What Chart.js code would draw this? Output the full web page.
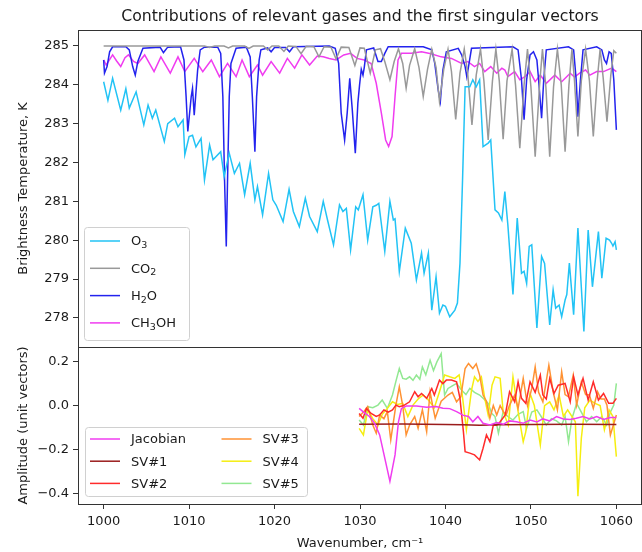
<!DOCTYPE html>
<html><head><meta charset="utf-8">
<script src="https://cdn.jsdelivr.net/npm/chart.js@4"></script>
<style>
html,body{margin:0;padding:0;background:#fff;}
#wrap{position:relative;width:642px;height:552px;}
canvas{position:absolute;left:0;top:0;}
</style></head>
<body><div id="wrap"><canvas id="top" width="642" height="552"></canvas><canvas id="bot" width="642" height="552"></canvas></div>
<script>
// ---------- tick labels ----------
const xTicks = [1000, 1010, 1020, 1030, 1040, 1050, 1060];
const topYTicks = [278, 279, 280, 281, 282, 283, 284, 285];
const botYTicks = [-0.4, -0.2, 0.0, 0.2];

// ---------- top panel: gas contributions (K) ----------
const o3X = [1000.0,1000.5,1001.05,1002.0,1002.6,1003.0,1003.8,1004.7,1005.2,1005.7,1006.1,1007.1,1007.5,1008.3,1008.7,1009.3,1009.5,1010.0,1010.4,1010.8,1011.4,1011.8,1012.4,1012.8,1013.7,1014.1,1014.7,1015.3,1015.9,1016.5,1017.15,1017.7,1018.0,1018.6,1019.3,1019.8,1020.2,1021.0,1021.7,1022.2,1022.9,1023.6,1024.1,1025.0,1025.7,1026.2,1026.9,1027.6,1028.0,1028.4,1028.9,1029.5,1029.8,1030.35,1030.9,1031.5,1031.9,1032.2,1032.9,1033.5,1033.9,1034.1,1034.6,1035.3,1036.0,1036.6,1037.2,1037.5,1038.0,1038.4,1038.9,1039.3,1039.7,1040.0,1040.5,1041.1,1041.4,1041.7,1042.0,1042.3,1042.85,1043.2,1043.6,1044.0,1044.4,1045.0,1045.3,1045.8,1046.2,1046.6,1046.95,1047.3,1047.9,1048.4,1048.9,1049.2,1049.5,1049.8,1050.1,1050.7,1051.25,1051.6,1052.2,1052.6,1052.9,1053.3,1053.6,1054.0,1054.2,1054.5,1055.0,1055.5,1056.2,1056.7,1057.2,1057.9,1058.3,1058.8,1059.2,1059.45,1059.6,1059.85,1060.0];
const o3Y = [284.08,283.6,284.17,283.35,283.9,283.4,283.82,282.97,283.48,283.14,283.35,282.54,283.0,283.14,282.92,283.1,282.2,282.67,282.7,282.4,282.62,281.55,282.45,282.07,282.28,281.64,282.24,281.72,281.98,281.17,281.98,281.04,281.38,280.65,281.72,281.04,280.9,280.48,281.31,280.74,280.35,281.08,280.61,280.22,281.0,280.52,279.88,280.91,280.74,280.82,279.75,280.86,280.78,281.17,280.0,280.86,280.9,280.95,279.71,281.0,280.52,280.55,279.19,280.31,279.92,278.98,279.67,279.15,279.67,278.2,279.06,278.12,278.33,278.3,278.03,278.2,278.38,279.41,281.55,283.95,283.95,284.13,283.95,284.13,282.41,282.5,282.58,280.78,280.7,280.52,281.25,280.4,278.6,280.57,279.15,279.2,278.89,279.84,279.88,277.74,279.58,279.4,277.82,278.72,278.25,278.33,278.03,278.46,278.6,279.41,278.08,280.31,277.65,280.26,278.8,280.22,279.02,280.05,280.0,279.92,279.85,279.96,279.75];

const co2X = [1000.0,1011.8,1012.4,1013.0,1014.1,1014.6,1015.1,1016.5,1017.0,1017.5,1018.7,1019.2,1019.7,1020.5,1021.1,1021.6,1022.5,1023.1,1023.7,1024.6,1025.2,1025.8,1026.6,1027.2,1027.8,1028.7,1029.4,1030.0,1030.5,1031.2,1031.8,1032.4,1032.9,1033.5,1034.0,1034.5,1035.0,1035.4,1035.8,1036.4,1036.9,1037.4,1037.9,1038.4,1038.9,1039.3,1039.8,1040.3,1040.7,1041.2,1041.7,1042.2,1042.6,1043.1,1043.6,1044.1,1044.5,1045.0,1045.5,1045.9,1046.3,1046.75,1047.2,1047.8,1048.2,1048.7,1049.2,1049.6,1050.0,1050.5,1051.0,1051.35,1051.75,1052.2,1052.65,1053.1,1053.55,1054.0,1054.45,1054.8,1055.1,1055.5,1055.9,1056.4,1056.85,1057.3,1057.75,1058.1,1058.45,1058.9,1059.35,1059.7,1060.0];
const co2Y = [285.0,285.0,284.96,285.0,285.0,284.95,285.0,285.0,284.94,285.0,285.0,284.9,285.0,285.0,284.86,285.0,284.99,284.8,284.99,284.98,284.72,284.98,284.97,284.67,284.97,284.96,284.5,284.95,284.94,284.3,284.9,284.93,284.6,284.13,284.6,284.93,284.55,283.91,284.5,284.93,284.45,283.7,284.4,284.92,284.45,283.57,284.4,284.92,284.35,283.11,284.3,284.92,284.3,282.97,284.25,284.92,284.1,282.58,284.1,284.92,284.1,282.6,284.1,284.92,284.0,282.37,284.0,284.92,283.95,282.15,283.95,284.92,283.95,282.15,283.95,284.92,284.0,282.28,284.0,284.92,284.1,282.67,284.1,284.92,284.1,282.67,284.1,284.92,284.2,283.05,284.25,284.88,284.81];

const h2oX = [1000.0,1000.1,1000.4,1000.7,1001.05,1002.6,1003.0,1003.4,1003.7,1004.0,1004.6,1006.6,1007.0,1007.5,1009.0,1009.4,1009.65,1009.85,1010.25,1010.4,1010.6,1011.0,1011.3,1011.8,1013.35,1013.7,1013.95,1014.15,1014.35,1014.5,1014.7,1014.9,1015.5,1016.7,1017.15,1017.4,1017.7,1017.9,1018.2,1018.4,1019.2,1019.6,1020.0,1021.3,1021.75,1022.2,1026.4,1027.1,1027.5,1027.8,1028.2,1028.5,1028.8,1029.1,1029.45,1029.75,1029.95,1030.15,1030.35,1030.5,1030.75,1031.6,1032.1,1032.5,1032.9,1033.3,1037.4,1038.4,1038.75,1039.15,1039.4,1039.7,1040.1,1041.5,1041.9,1042.3,1042.5,1042.7,1043.05,1047.9,1048.5,1048.9,1049.2,1049.5,1049.9,1050.3,1050.7,1050.9,1051.25,1051.5,1051.8,1054.4,1055.0,1055.3,1055.5,1055.8,1056.1,1057.7,1058.3,1058.6,1058.85,1059.15,1059.4,1059.7,1060.0];
const h2oY = [284.64,284.3,284.47,284.85,284.98,284.98,284.9,284.47,284.25,284.6,284.94,284.97,284.83,284.97,284.98,284.64,283.7,282.8,283.7,283.91,283.22,284.38,284.9,284.97,284.97,284.81,283.7,281.55,279.84,281.55,283.7,284.55,284.94,284.97,284.72,283.7,282.28,283.7,284.64,284.9,284.95,284.85,284.96,284.96,284.85,284.98,285.0,284.94,284.55,283.27,282.58,283.27,284.17,283.35,282.24,283.53,284.0,284.4,284.25,284.45,284.9,284.95,284.6,284.6,284.81,284.98,284.98,284.9,284.55,283.87,283.57,284.38,284.85,284.94,284.77,284.47,284.21,284.47,284.94,284.98,284.9,284.13,283.1,284.13,284.77,284.85,284.64,284.13,283.14,284.13,284.9,284.98,284.9,284.13,283.18,284.13,284.9,284.98,284.9,284.64,284.55,284.85,284.81,284.13,282.84];

const ch3ohX = [1000.0,1000.3,1001.05,1001.5,1002.0,1002.5,1002.9,1003.5,1004.0,1004.8,1005.9,1006.7,1007.8,1008.7,1009.5,1010.6,1011.6,1012.6,1013.55,1014.5,1015.5,1016.2,1017.05,1018.0,1018.6,1019.6,1020.6,1021.5,1022.35,1023.2,1024.1,1025.0,1025.7,1026.4,1027.2,1028.1,1028.9,1029.65,1030.5,1031.3,1031.9,1032.5,1033.0,1033.35,1033.75,1034.1,1034.45,1034.85,1036.0,1037.2,1038.3,1039.5,1040.7,1041.9,1042.6,1043.4,1044.0,1044.6,1045.3,1046.0,1046.6,1046.95,1047.3,1048.1,1048.7,1049.3,1049.9,1050.5,1051.1,1051.8,1052.8,1053.6,1054.6,1055.1,1055.7,1056.4,1056.9,1057.7,1058.5,1059.45,1060.0];
const ch3ohY = [284.64,284.51,284.77,284.62,284.47,284.7,284.77,284.6,284.55,284.77,284.34,284.72,284.3,284.72,284.34,284.68,284.34,284.64,284.21,284.55,284.21,284.64,284.21,284.51,284.25,284.6,284.3,284.68,284.43,284.77,284.51,284.74,284.72,284.68,284.64,284.77,284.81,284.68,284.64,284.55,284.04,283.27,282.58,282.41,282.67,283.7,284.64,284.81,284.81,284.85,284.8,284.72,284.68,284.55,284.6,284.47,284.55,284.34,284.47,284.3,284.43,284.38,284.21,284.34,284.13,284.21,284.34,284.08,284.25,284.04,284.25,284.08,284.3,284.2,284.3,284.38,284.25,284.34,284.34,284.43,284.34];

// ---------- bottom panel: Jacobian and singular vectors ----------
const jacX = [1029.9,1030.35,1031.1,1031.7,1032.3,1032.9,1033.5,1034.1,1034.5,1034.85,1035.4,1036.6,1037.8,1038.9,1039.7,1040.5,1041.3,1042.1,1042.7,1043.2,1043.8,1044.4,1045.2,1046.0,1046.8,1047.5,1048.3,1049.1,1049.9,1050.7,1051.4,1052.2,1053.0,1053.8,1054.6,1055.3,1056.1,1056.9,1057.7,1058.5,1059.3,1060.0];
const jacY = [-0.013,-0.028,-0.05,-0.08,-0.134,-0.24,-0.346,-0.225,-0.074,-0.013,-0.002,-0.002,-0.008,-0.004,-0.012,-0.014,-0.028,-0.045,-0.05,-0.074,-0.05,-0.081,-0.089,-0.078,-0.085,-0.07,-0.074,-0.081,-0.066,-0.075,-0.061,-0.07,-0.05,-0.061,-0.064,-0.058,-0.05,-0.061,-0.05,-0.063,-0.055,-0.055];

const sv1X = [1029.9,1035.0,1040.0,1042.0,1044.0,1046.0,1050.0,1055.0,1060.0];
const sv1Y = [-0.085,-0.084,-0.086,-0.088,-0.09,-0.088,-0.086,-0.085,-0.086];

const sv2X = [1029.9,1030.35,1030.75,1031.3,1031.9,1032.3,1032.8,1033.3,1033.8,1034.2,1034.6,1035.1,1035.8,1036.4,1036.8,1037.2,1037.8,1038.4,1038.7,1039.3,1039.7,1040.1,1040.7,1041.3,1041.7,1042.1,1042.3,1042.85,1043.4,1044.0,1044.4,1044.8,1045.2,1045.6,1046.0,1046.4,1047.0,1047.5,1048.1,1048.5,1048.9,1049.4,1049.9,1050.5,1051.1,1051.4,1051.8,1052.2,1052.7,1053.2,1054.0,1054.6,1055.0,1055.5,1056.1,1056.7,1057.3,1057.9,1058.5,1059.1,1059.6,1060.0];
const sv2Y = [-0.036,-0.058,-0.013,-0.036,-0.05,-0.043,-0.02,-0.03,-0.02,0.002,-0.005,0.0,0.017,0.063,0.04,0.055,0.033,0.078,0.048,0.116,0.1,0.116,0.116,0.108,0.033,-0.119,-0.21,-0.217,-0.225,-0.248,-0.195,-0.134,-0.165,-0.089,-0.09,-0.074,-0.043,0.063,0.017,0.108,0.033,0.01,0.108,0.06,0.139,0.048,0.03,0.124,0.055,0.093,0.101,0.017,0.131,0.048,0.124,0.025,0.108,0.025,0.055,0.01,0.01,0.033];

const sv3X = [1029.9,1030.4,1030.9,1031.5,1031.9,1032.3,1032.8,1033.2,1033.6,1034.2,1034.6,1035.0,1035.4,1035.8,1036.4,1036.8,1037.3,1037.8,1038.2,1038.5,1038.8,1039.5,1040.3,1040.8,1041.3,1041.8,1042.3,1042.7,1043.2,1043.6,1044.0,1044.4,1044.8,1045.2,1045.6,1046.0,1046.4,1046.8,1047.1,1047.5,1048.1,1048.5,1049.1,1049.6,1050.1,1050.5,1050.9,1051.4,1052.1,1052.6,1053.1,1053.6,1054.0,1054.4,1054.95,1055.35,1055.9,1056.4,1056.85,1057.3,1057.8,1058.2,1058.6,1058.9,1059.3,1060.0];
const sv3Y = [-0.05,-0.03,-0.005,-0.089,-0.126,-0.043,-0.06,-0.028,-0.157,0.002,0.085,0.0,-0.134,-0.089,-0.05,-0.104,-0.02,-0.119,0.063,0.0,-0.058,0.02,0.048,0.06,0.017,0.04,0.169,0.192,0.169,0.19,0.139,0.048,0.02,-0.058,0.0,-0.043,0.0,-0.03,-0.043,0.002,0.048,-0.013,0.124,0.0,0.078,0.176,0.06,0.017,0.184,0.063,-0.02,0.154,0.05,0.04,0.139,0.002,0.108,0.05,0.048,-0.013,0.063,0.03,0.03,0.002,-0.134,-0.043];

const sv4X = [1029.9,1030.4,1030.9,1031.5,1032.1,1032.6,1033.2,1033.8,1034.4,1035.0,1035.6,1036.2,1036.8,1037.4,1038.0,1038.7,1039.3,1039.9,1040.5,1041.1,1041.6,1041.9,1042.45,1043.05,1043.4,1043.8,1044.2,1044.6,1045.0,1045.45,1045.8,1046.4,1046.75,1047.35,1047.9,1048.5,1049.1,1049.4,1049.9,1050.4,1051.1,1051.6,1052.2,1052.7,1053.3,1053.8,1054.3,1055.2,1055.5,1055.9,1056.3,1056.9,1057.5,1058.1,1058.6,1059.15,1059.6,1060.0];
const sv4Y = [-0.104,-0.134,-0.02,-0.06,-0.089,-0.04,-0.013,0.017,0.005,0.01,-0.05,0.002,0.03,0.048,0.025,-0.01,0.063,0.139,0.131,0.124,0.14,0.07,-0.11,0.07,0.131,0.11,0.131,0.033,-0.043,0.093,0.131,0.124,-0.028,-0.089,0.131,-0.028,-0.165,-0.12,0.055,0.0,-0.18,0.0,0.017,-0.02,0.048,-0.05,-0.02,-0.074,-0.414,-0.149,-0.01,0.025,0.01,0.0,-0.111,-0.02,-0.05,-0.233];

const sv5X = [1029.9,1030.4,1030.9,1031.5,1032.1,1032.6,1033.2,1033.8,1034.2,1034.6,1035.0,1035.4,1035.8,1036.2,1036.6,1037.0,1037.3,1037.7,1038.2,1038.6,1039.0,1039.5,1039.9,1040.3,1040.8,1041.3,1041.9,1042.4,1042.85,1043.4,1044.0,1044.5,1045.0,1045.4,1045.8,1046.2,1046.75,1047.3,1047.9,1048.5,1049.1,1049.5,1050.1,1050.7,1051.2,1051.8,1052.4,1053.0,1053.6,1054.0,1054.4,1054.8,1055.35,1055.9,1056.5,1057.1,1057.7,1058.3,1058.85,1059.3,1059.7,1060.0];
const sv5Y = [-0.066,-0.089,-0.005,-0.01,0.002,0.025,-0.013,0.048,0.11,0.169,0.124,0.12,0.131,0.115,0.139,0.12,0.176,0.14,0.207,0.16,0.199,0.237,0.048,0.078,0.09,0.101,0.07,0.05,0.078,0.06,0.048,0.03,0.01,-0.035,-0.05,-0.126,-0.028,-0.05,-0.066,-0.04,-0.028,-0.104,-0.03,-0.02,-0.05,-0.089,-0.06,-0.07,-0.089,-0.05,-0.165,-0.06,0.01,-0.03,-0.074,-0.05,-0.074,-0.05,-0.089,-0.03,0.002,0.101];

// ---------- helpers ----------
const pts = (xs, ys) => xs.map((x, i) => ({x: x, y: ys[i]}));
const FONT = 'DejaVu Sans';
const TXT = '#1a1a1a';
const AX = '#333333';
const SUBS = '₀₁₂₃₄₅₆₇₈₉';

const framePlugin = {
  id: 'frame',
  afterDatasetsDraw(chart) {
    const a = chart.chartArea, c = chart.ctx;
    c.save(); c.strokeStyle = AX; c.lineWidth = 1;
    c.strokeRect(Math.round(a.left) + 0.5, Math.round(a.top) + 0.5, Math.round(a.right - a.left) - 1, Math.round(a.bottom - a.top));
    c.restore();
  }
};

// draws a label, rendering Unicode subscript digits as lowered, smaller digits (matplotlib mathtext look)
function drawLabel(c, text, x, y) {
  let cx = x;
  for (const ch of text) {
    const k = SUBS.indexOf(ch);
    if (k >= 0) {
      c.font = '9.5px "' + FONT + '"';
      c.fillText(String(k), cx, y + 3.5);
      cx += c.measureText(String(k)).width;
    } else {
      c.font = '13px "' + FONT + '"';
      c.fillText(ch, cx, y);
      cx += c.measureText(ch).width;
    }
  }
}

const legendPlugin = {
  id: 'inLegend',
  afterDraw(chart, args, o) {
    const c = chart.ctx;
    c.save();
    const r = 3;
    c.beginPath();
    c.moveTo(o.bx + r, o.by); c.lineTo(o.bx + o.bw - r, o.by); c.arcTo(o.bx + o.bw, o.by, o.bx + o.bw, o.by + r, r);
    c.lineTo(o.bx + o.bw, o.by + o.bh - r); c.arcTo(o.bx + o.bw, o.by + o.bh, o.bx + o.bw - r, o.by + o.bh, r);
    c.lineTo(o.bx + r, o.by + o.bh); c.arcTo(o.bx, o.by + o.bh, o.bx, o.by + o.bh - r, r);
    c.lineTo(o.bx, o.by + r); c.arcTo(o.bx, o.by, o.bx + r, o.by, r);
    c.closePath();
    c.fillStyle = 'rgba(255,255,255,0.85)'; c.fill();
    c.strokeStyle = '#d0d0d0'; c.lineWidth = 1; c.stroke();
    c.textBaseline = 'middle'; c.textAlign = 'left';
    chart.data.datasets.forEach((d, i) => {
      const col = Math.floor(i / o.rows), row = i % o.rows;
      const x0 = o.cols[col], y = o.y0 + row * o.rowH;
      c.strokeStyle = d.borderColor; c.lineWidth = 1.5;
      c.beginPath(); c.moveTo(x0, y); c.lineTo(x0 + 30, y); c.stroke();
      c.fillStyle = TXT;
      drawLabel(c, d.label, x0 + 41, y + 1);
    });
    c.restore();
  }
};

const ds = (label, xs, ys, color) => ({label, data: pts(xs, ys), borderColor: color, backgroundColor: color, borderWidth: 1.5, pointRadius: 0, tension: 0, fill: false});

const tickFont = {family: FONT, size: 13};

new Chart(document.getElementById('top'), {
  type: 'line',
  data: {datasets: [
    ds('O₃', o3X, o3Y, '#22c3f5'),
    ds('CO₂', co2X, co2Y, '#999999'),
    ds('H₂O', h2oX, h2oY, '#2323ee'),
    ds('CH₃OH', ch3ohX, ch3ohY, '#f03cf0')
  ]},
  options: {
    responsive: false, animation: false, events: [],
    layout: {padding: {left: 0, right: 0, top: 0, bottom: 205}},
    plugins: {
      legend: {display: false}, tooltip: {enabled: false},
      title: {display: true, fullSize: false, text: 'Contributions of relevant gases and the first singular vectors',
        font: {family: FONT, size: 15.7, weight: 'normal', lineHeight: 1.15}, color: TXT, padding: {top: 8, bottom: 4}},
      inLegend: {bx: 84.5, by: 227.5, bw: 105, bh: 113, rows: 4, cols: [90], y0: 241, rowH: 27.3}
    },
    scales: {
      x: {type: 'linear', display: false, min: 997, max: 1063},
      y: {type: 'linear', min: 277.25, max: 285.41,
        afterFit(s) { s.width = 78; },
        afterBuildTicks(s) { s.ticks = topYTicks.map(v => ({value: v})); },
        ticks: {font: tickFont, color: TXT, padding: 4, callback: v => String(v)},
        grid: {drawOnChartArea: false, drawTicks: true, tickLength: 5, color: AX},
        border: {display: true, color: AX},
        title: {display: true, text: 'Brightness Temperature, K', font: tickFont, color: TXT, padding: {top: 16, bottom: 0}}
      }
    }
  },
  plugins: [framePlugin, legendPlugin]
});

new Chart(document.getElementById('bot'), {
  type: 'line',
  data: {datasets: [
    ds('Jacobian', jacX, jacY, '#f03cf0'),
    ds('SV#1', sv1X, sv1Y, '#9a1c1c'),
    ds('SV#2', sv2X, sv2Y, '#ff2b2b'),
    ds('SV#3', sv3X, sv3Y, '#ff9233'),
    ds('SV#4', sv4X, sv4Y, '#f5ee10'),
    ds('SV#5', sv5X, sv5Y, '#92e892')
  ]},
  options: {
    responsive: false, animation: false, events: [],
    layout: {padding: {left: 0, right: 0, top: 347, bottom: 0}},
    plugins: {
      legend: {display: false}, tooltip: {enabled: false},
      inLegend: {bx: 85.5, by: 427.5, bw: 222, bh: 69, rows: 3, cols: [90, 221.5], y0: 439, rowH: 22.2}
    },
    scales: {
      x: {type: 'linear', min: 997, max: 1063,
        afterFit(s) { s.height = 48; },
        afterBuildTicks(s) { s.ticks = xTicks.map(v => ({value: v})); },
        ticks: {font: tickFont, color: TXT, padding: 5, maxRotation: 0, callback: v => String(v)},
        grid: {drawOnChartArea: false, drawTicks: true, tickLength: 5, color: AX},
        border: {display: true, color: AX},
        title: {display: true, text: 'Wavenumber, cm⁻¹', font: tickFont, color: TXT, padding: {top: 0, bottom: 1}}
      },
      y: {type: 'linear', min: -0.449, max: 0.267,
        afterFit(s) { s.width = 78; },
        afterBuildTicks(s) { s.ticks = botYTicks.map(v => ({value: v})); },
        ticks: {font: tickFont, color: TXT, padding: 4, callback: v => v.toFixed(1).replace('-', '\u2212')},
        grid: {drawOnChartArea: false, drawTicks: true, tickLength: 5, color: AX},
        border: {display: true, color: AX},
        title: {display: true, text: 'Amplitude (unit vectors)', font: tickFont, color: TXT, padding: {top: 16, bottom: 0}}
      }
    }
  },
  plugins: [framePlugin, legendPlugin]
});
</script>
</body></html>
